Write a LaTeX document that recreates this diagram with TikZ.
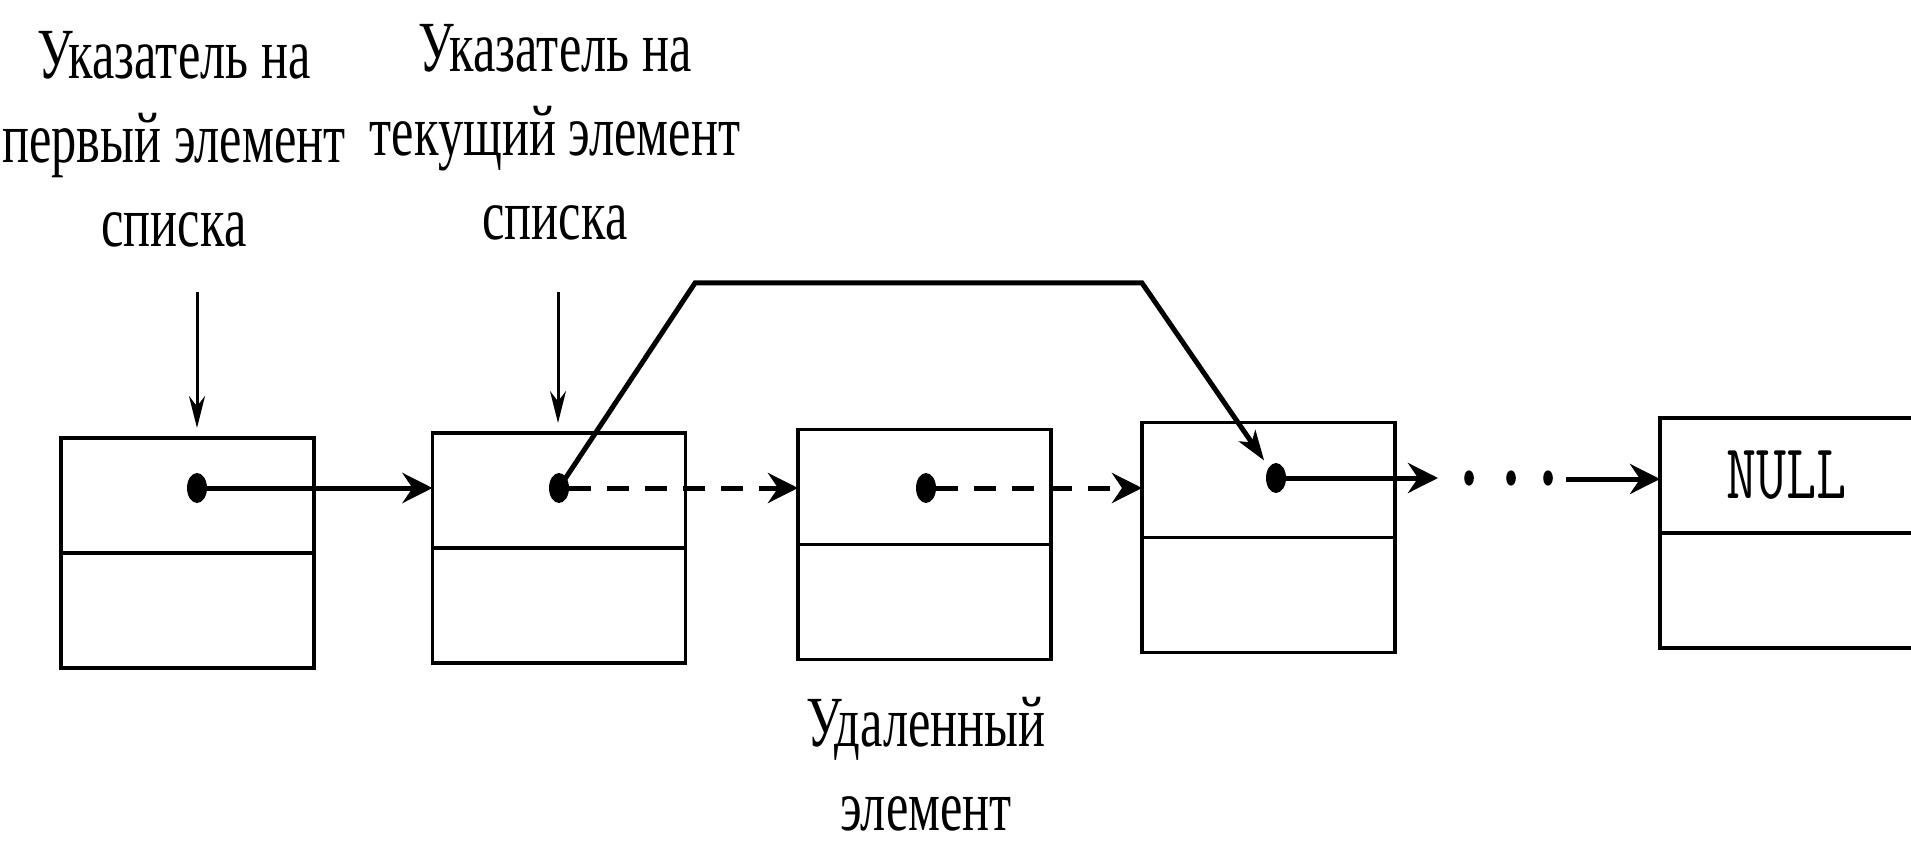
\documentclass[tikz,border=0pt]{standalone}
\usepackage{fontspec}
\setmainfont[FakeStretch=0.7]{Liberation Serif}
\setmonofont[FakeStretch=0.75]{Latin Modern Mono}
\usetikzlibrary{arrows.meta,shapes.geometric,positioning}

\begin{document}
\begin{tikzpicture}[x=0.5pt,y=-0.5pt,
  cell/.style={draw,line width=1.8pt,minimum width=126.5pt,minimum height=57.5pt,inner sep=0pt,outer sep=0pt},
  ptr/.style={ellipse,fill=black,inner sep=0pt,minimum width=10pt,minimum height=15pt},
  link/.style={line width=2.5pt,-{Stealth[length=15pt,width=15pt,inset=5pt]}},
  gone/.style={link,dash pattern=on 11pt off 8pt},
  pointer/.style={line width=1.5pt,-{Stealth[length=16pt,width=8pt]}},
  caption/.style={align=center,font=\fontsize{36}{42}\selectfont}]
\useasboundingbox (0,0) rectangle (1911,845);

% list elements
\foreach \n/\x/\y in {1/187.5/495.5,2/559/490.5,3/924.5/487,4/1268.5/480,5/1786.5/475.5} {
	\node[cell] (e\n) at (\x,\y) {};
	\node[cell,below=0pt of e\n] (f\n) {};
}
\node[font=\fontsize{39}{42}\selectfont\ttfamily] (nul) at (e5) {NULL};

% pointer fields
\node[ptr] (p1) at (197,488) {};
\node[ptr] (p2) at (559,488) {};
\node[ptr] (p3) at (926,488) {};
\node[ptr] (p4) at (1276,478) {};

\draw[link] (p1.center) -- (p1 -| e2.west);
\draw[gone] (p2.east) -- (p2 -| e3.west);
\draw[gone] (p3.east) -- (p3 -| e4.west);

\coordinate (q1) at (1438,478);
\coordinate (q2) at (1566,479);
\draw[link] (p4.center) -- (q1);
\foreach \x in {1469,1511,1548}
	\fill (\x,478) ellipse (2.4pt and 3.8pt);
\draw[link] (q2) -- (q2 -| e5.west);

% bypass of the removed element
\coordinate (b1) at (695,283);
\coordinate (b2) at (1142,283);
\draw[line width=2.5pt,-{Stealth[length=15pt,width=10pt,inset=4pt]},shorten >=4pt] (p2.center) -- (b1) -- (b2) -- (p4.north west);

% captions
\node[caption] (lab1) at (174,139) {Указатель на\\первый элемент\\списка};
\node[caption] (lab2) at (555,132) {Указатель на\\текущий элемент\\списка};
\node[caption] (lab3) at (926,764) {Удаленный\\элемент};

\coordinate (t1) at (197,292);
\coordinate (t2) at (558,292);
\draw[pointer,shorten >=5pt] (t1) -- (t1 |- e1.north);
\draw[pointer,shorten >=5pt] (t2) -- (t2 |- e2.north);
\end{tikzpicture}
\end{document}
